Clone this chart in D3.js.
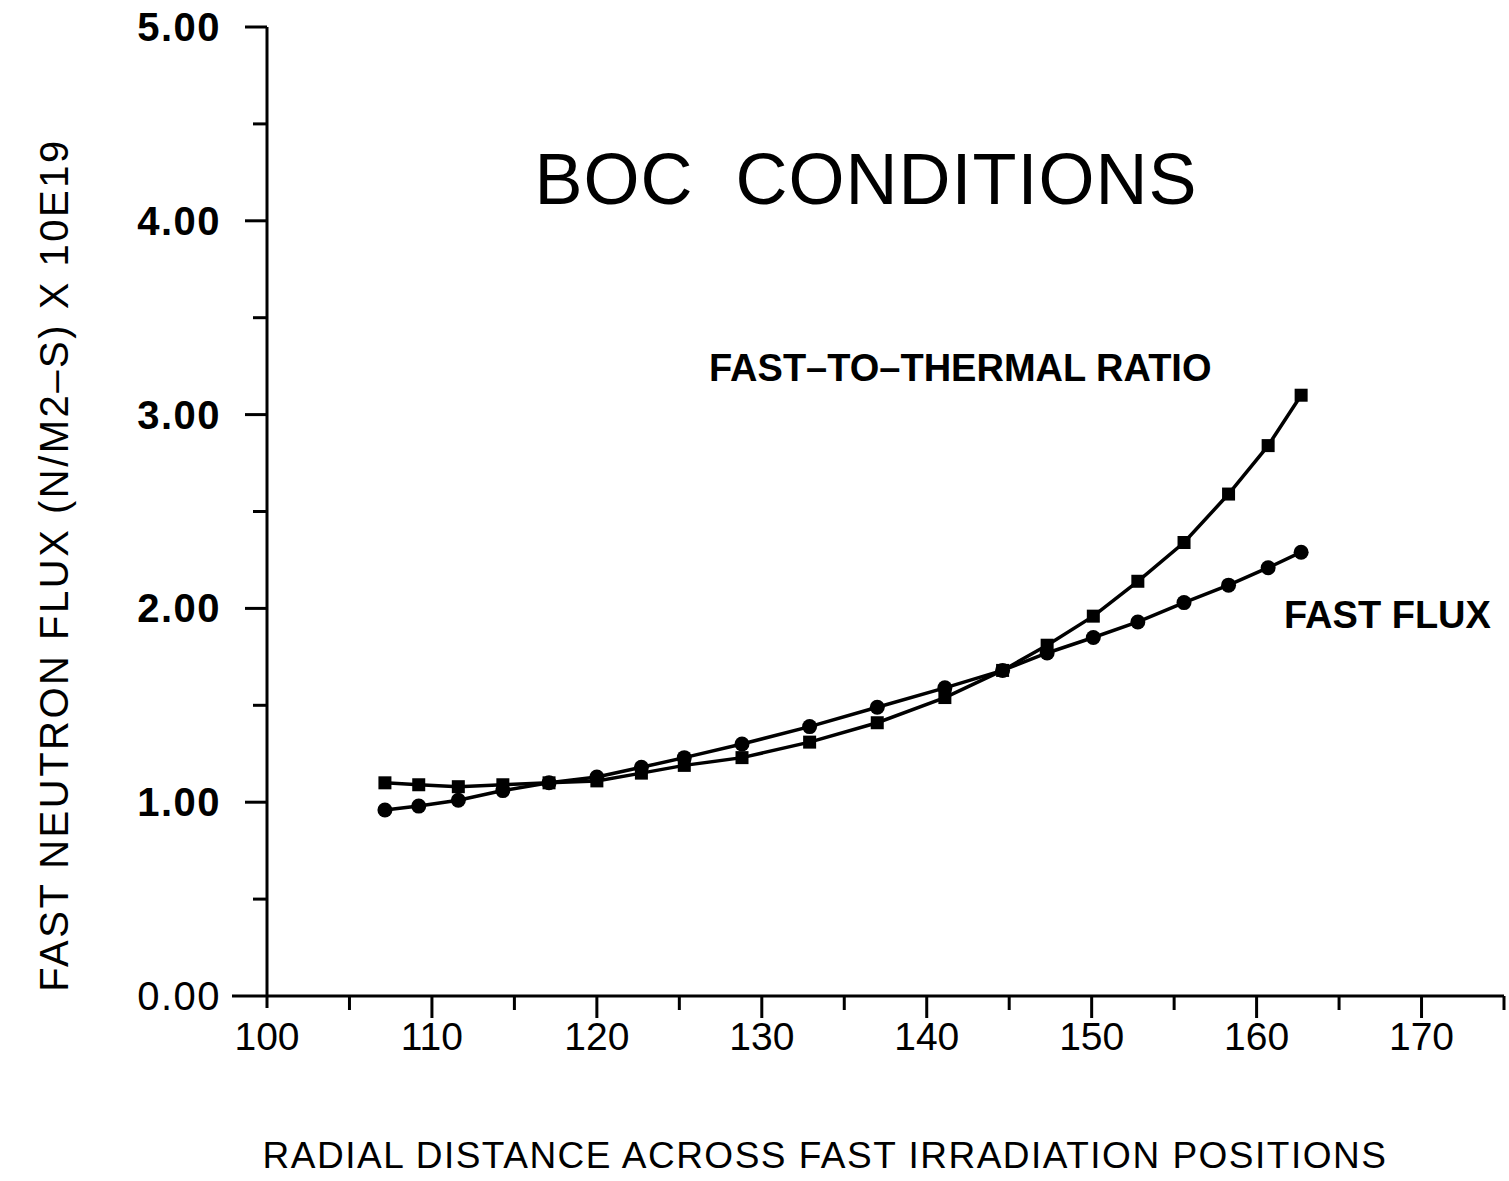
<!DOCTYPE html>
<html>
<head>
<meta charset="utf-8">
<script src="https://cdn.jsdelivr.net/npm/d3@7"></script>
<style>
  body { margin: 0; background: #fff; }
  svg { display: block; }
  text { font-family: "Liberation Sans", Arial, sans-serif; fill: #000; }
</style>
</head>
<body>
<svg id="chart" width="1509" height="1181"></svg>
<script>
// radial positions (same for both curves)
var radial = [107.15, 109.2, 111.6, 114.3, 117.1, 120.0, 122.7, 125.3, 128.8, 132.9,
              137.0, 141.1, 144.6, 147.3, 150.1, 152.8, 155.6, 158.3, 160.7, 162.7];
// fast-to-thermal ratio (square markers)
var ratio = [1.10, 1.09, 1.08, 1.09, 1.10, 1.11, 1.15, 1.19, 1.23, 1.31,
             1.41, 1.54, 1.68, 1.81, 1.96, 2.14, 2.34, 2.59, 2.84, 3.10];
// fast flux (circle markers)
var flux = [0.96, 0.98, 1.01, 1.06, 1.10, 1.13, 1.18, 1.23, 1.30, 1.39,
            1.49, 1.59, 1.68, 1.77, 1.85, 1.93, 2.03, 2.12, 2.21, 2.29];
var xTicks = [100, 110, 120, 130, 140, 150, 160, 170];
var yTicks = [0, 1, 2, 3, 4, 5];

var svg = d3.select("#chart");

// scales (axis runs 100..175, 0..5)
var x = d3.scaleLinear().domain([100, 175]).range([267, 1504]);
var y = d3.scaleLinear().domain([0, 5]).range([996, 27]);

//x axis line, extends a bit left of the y axis
svg.append("line")
   .attr("x1", 232).attr("x2", x(175))
   .attr("y1", y(0)).attr("y2", y(0))
   .attr("stroke", "#000").attr("stroke-width", 3);
//y axis line, pokes below the x axis
svg.append("line")
   .attr("x1", x(100)).attr("x2", x(100))
   .attr("y1", y(5)).attr("y2", y(0) + 12)
   .attr("stroke", "#000").attr("stroke-width", 3);

//x ticks: majors every 10, minors every 5
d3.range(105, 176, 5).forEach(function(v){
  var major = v % 10 == 0;
  svg.append("line")
     .attr("x1", x(v)).attr("x2", x(v))
     .attr("y1", y(0)).attr("y2", y(0) + (major ? 22 : 14))
     .attr("stroke", "#000").attr("stroke-width", 3);
});
svg.selectAll(".xlab").data(xTicks).enter().append("text")
   .attr("x", function(d){ return x(d); })
   .attr("y", 1050)
   .attr("text-anchor", "middle")
   .attr("font-size", 39)
   .text(function(d){ return d; });

//y ticks: majors every 1, minors every 0.5
d3.range(0.5, 5.01, 0.5).forEach(function(v){
  var major = Math.abs(v - Math.round(v)) < 0.01;
  svg.append("line")
     .attr("x1", x(100) - (major ? 22 : 14)).attr("x2", x(100))
     .attr("y1", y(v)).attr("y2", y(v))
     .attr("stroke", "#000").attr("stroke-width", 3);
});
svg.selectAll(".ylab").data(yTicks).enter().append("text")
   .attr("x", 221)
   .attr("y", function(d){ return y(d) + 14; })
   .attr("text-anchor", "end")
   .attr("font-size", 40)
   .attr("letter-spacing", 1.5)
   .attr("font-weight", function(d){ return d == 0 ? "normal" : "bold"; })
   .text(function(d){ return d.toFixed(2); });

//curves
var line = d3.line()
   .x(function(d){ return x(d[0]); })
   .y(function(d){ return y(d[1]); });

var ratioPts = d3.zip(radial, ratio);
var fluxPts = d3.zip(radial, flux);

svg.append("path").attr("d", line(ratioPts))
   .attr("fill", "none").attr("stroke", "#000").attr("stroke-width", 3.5);
svg.append("path").attr("d", line(fluxPts))
   .attr("fill", "none").attr("stroke", "#000").attr("stroke-width", 3.5);

svg.selectAll(".sq").data(ratioPts).enter().append("rect")
   .attr("x", function(d){ return x(d[0]) - 6.5; })
   .attr("y", function(d){ return y(d[1]) - 6.5; })
   .attr("width", 13).attr("height", 13)
   .attr("fill", "#000");
svg.selectAll(".dot").data(fluxPts).enter().append("circle")
   .attr("cx", function(d){ return x(d[0]); })
   .attr("cy", function(d){ return y(d[1]); })
   .attr("r", 7.5)
   .attr("fill", "#000");

//titles and labels
svg.append("text")
   .attr("x", 866).attr("y", 204)
   .attr("text-anchor", "middle")
   .attr("font-size", 72)
   .attr("letter-spacing", 1)
   .attr("xml:space", "preserve")
   .text("BOC  CONDITIONS");

svg.append("text")
   .attr("x", 709).attr("y", 381)
   .attr("font-size", 38).attr("font-weight", "bold")
   .text("FAST\u2013TO\u2013THERMAL RATIO");

svg.append("text")
   .attr("x", 1284).attr("y", 628)
   .attr("font-size", 38).attr("font-weight", "bold")
   .text("FAST FLUX");

svg.append("text")
   .attr("transform", "translate(68,565) rotate(-90)")
   .attr("text-anchor", "middle")
   .attr("font-size", 40)
   .attr("letter-spacing", 2.5)
   .text("FAST NEUTRON FLUX (N/M2\u2013S) X 10E19");

svg.append("text")
   .attr("x", 825).attr("y", 1168)
   .attr("text-anchor", "middle")
   .attr("font-size", 37)
   .attr("letter-spacing", 1.5)
   .text("RADIAL DISTANCE ACROSS FAST IRRADIATION POSITIONS");
</script>
</body>
</html>
